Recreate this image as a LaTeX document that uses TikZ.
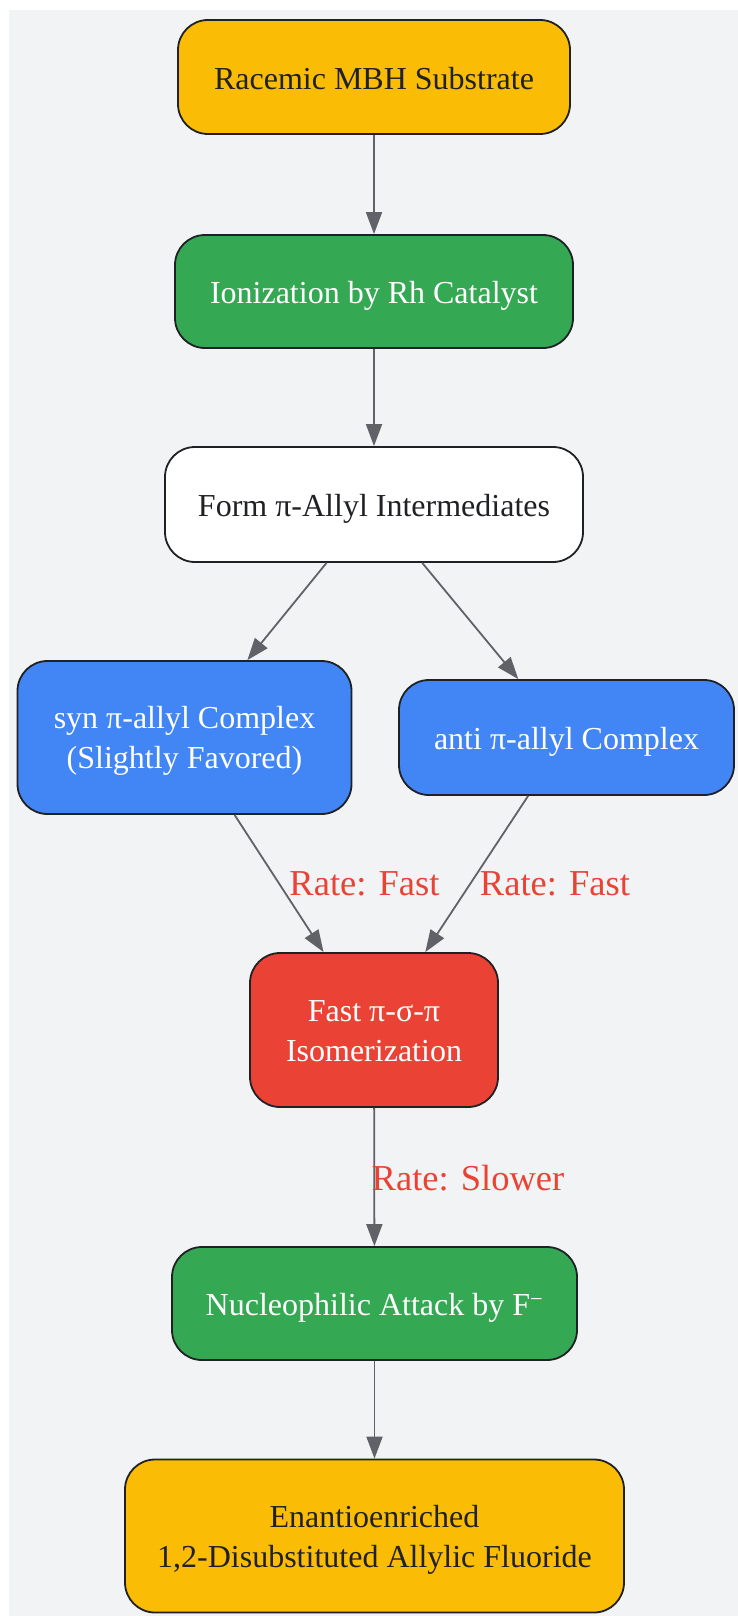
\documentclass[tikz,border=0pt]{standalone}
\usepackage{fontspec}
\setmainfont{Liberation Serif}
\usetikzlibrary{arrows.meta}
\definecolor{bgc}{HTML}{F1F3F4}
\definecolor{gyellow}{HTML}{FBBC05}
\definecolor{ggreen}{HTML}{34A853}
\definecolor{gblue}{HTML}{4285F4}
\definecolor{gred}{HTML}{EA4335}
\definecolor{dark}{HTML}{202124}
\definecolor{arr}{HTML}{5F6368}
\newcommand{\topstrut}{\rule{0pt}{0.95em}}
\tikzset{
  box/.style={draw=dark, line width=1.8pt, rounded corners=30pt, align=center,
    inner sep=0pt, font=\fontsize{32}{40}\selectfont,
    execute at begin node={\rule{0pt}{1.02em}},
    execute at end node={\rule[-0.25em]{0pt}{0pt}}},
  ybox/.style={box, fill=gyellow, text=dark},
  gbox/.style={box, fill=ggreen, text=white},
  wbox/.style={box, fill=white, text=dark},
  bbox/.style={box, fill=gblue, text=white},
  rbox/.style={box, fill=gred, text=white},
  link/.style={draw=arr, line width=1.8pt, -{Triangle[length=22pt,width=16pt]}},
  rate/.style={text=gred, font=\fontsize{36.5}{44}\selectfont, inner sep=0pt},
}
\begin{document}
\begin{tikzpicture}[x=1pt,y=-1pt]
\useasboundingbox (0,0) rectangle (738,1616);
\fill[bgc] (8.5,10) rectangle (738,1616);
\node[ybox, minimum width=392pt, minimum height=114pt] (n1) at (374,77) {Racemic MBH Substrate};
\node[gbox, minimum width=398pt, minimum height=113pt] (n2) at (374,291.5) {Ionization by Rh Catalyst};
\node[wbox, minimum width=418pt, minimum height=115pt] (n3) at (374,504.5) {Form π-Allyl Intermediates};
\node[bbox, minimum width=334pt, minimum height=153pt] (n4) at (184.5,737.5) {\topstrut syn π-allyl Complex\\(Slightly Favored)};
\node[bbox, minimum width=335pt, minimum height=115pt] (n5) at (566.5,737.5) {anti π-allyl Complex};
\node[rbox, minimum width=248pt, minimum height=154pt] (n6) at (374,1030) {\topstrut Fast π-σ-π\\Isomerization};
\node[gbox, minimum width=405pt, minimum height=113pt] (n7) at (374.5,1303.5) {Nucleophilic Attack by F\textsuperscript{−}};
\node[ybox, minimum width=499pt, minimum height=153pt] (n8) at (374.5,1536) {\topstrut Enantioenriched\\1,2-Disubstituted Allylic Fluoride};
\draw[link] (n1) -- (n2);
\draw[link] (n2) -- (n3);
\draw[link] (n3) -- (n4);
\draw[link] (n3) -- (n5);
\draw[link] (n4) -- (n6);
\draw[link] (n5) -- (n6);
\draw[link] (n6) -- (n7);
\draw[link] (n7) -- (n8);
\node[rate] (l1) at (364.5,884) {Rate: Fast};
\node[rate] (l2) at (555,884) {Rate: Fast};
\node[rate] (l3) at (468,1178) {Rate: Slower};
\end{tikzpicture}
\end{document}
